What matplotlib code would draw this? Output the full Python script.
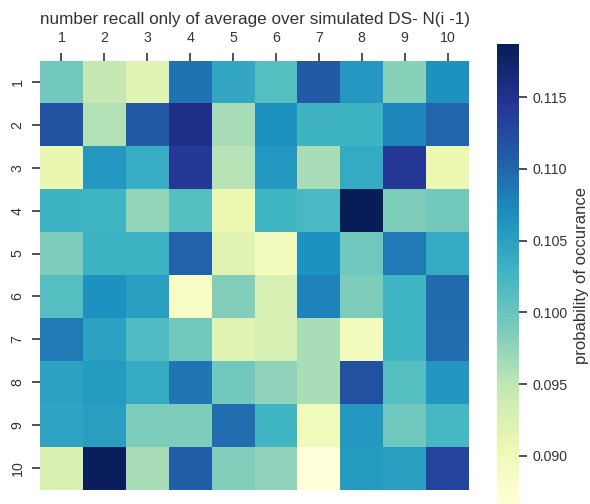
import numpy as np
import matplotlib
matplotlib.use("Agg")
import matplotlib.pyplot as plt
import seaborn as sns

row_labels = ["1", "2", "3", "4", "5", "6", "7", "8", "9", "10"]
col_labels = ["1", "2", "3", "4", "5", "6", "7", "8", "9", "10"]

row1 = [0.0994, 0.0946, 0.0920, 0.1090, 0.1042, 0.1013, 0.1110, 0.1058, 0.0981, 0.1065]
row2 = [0.1116, 0.0958, 0.1110, 0.1155, 0.0962, 0.1066, 0.1029, 0.1029, 0.1074, 0.1100]
row3 = [0.0910, 0.1058, 0.1036, 0.1142, 0.0955, 0.1058, 0.0962, 0.1039, 0.1142, 0.0904]
row4 = [0.1029, 0.1026, 0.0975, 0.1013, 0.0904, 0.1026, 0.1020, 0.1187, 0.0987, 0.0994]
row5 = [0.0987, 0.1029, 0.1029, 0.1103, 0.0920, 0.0894, 0.1065, 0.0997, 0.1084, 0.1039]
row6 = [0.1013, 0.1066, 0.1052, 0.0884, 0.0984, 0.0929, 0.1078, 0.0987, 0.1026, 0.1097]
row7 = [0.1084, 0.1049, 0.1016, 0.0994, 0.0920, 0.0929, 0.0962, 0.0894, 0.1026, 0.1094]
row8 = [0.1049, 0.1055, 0.1039, 0.1087, 0.0994, 0.0978, 0.0962, 0.1119, 0.1013, 0.1061]
row9 = [0.1045, 0.1052, 0.0987, 0.0987, 0.1094, 0.1026, 0.0897, 0.1058, 0.0997, 0.1023]
row10 = [0.0926, 0.1184, 0.0962, 0.1107, 0.0984, 0.0978, 0.0865, 0.1055, 0.1052, 0.1132]

data = np.array([row1, row2, row3, row4, row5, row6, row7, row8, row9, row10])

cbar_ticks = [0.090, 0.095, 0.100, 0.105, 0.110, 0.115]
cbar_ticklabels = ["0.090", "0.095", "0.100", "0.105", "0.110", "0.115"]

sns.set_style("ticks")
plt.rcParams['font.family'] = ['Liberation Sans', 'DejaVu Sans']
txt = "#333333"

fig = plt.figure(figsize=(5.9, 5.04), dpi=100)
ax = fig.add_axes([40/590, -2/504, 429/590, 462/504])
cax = fig.add_axes([497/590, -2/504, 22/590, 462/504])

sns.heatmap(data, ax=ax, cbar_ax=cax, cmap="YlGnBu", square=True,
            xticklabels=col_labels, yticklabels=row_labels)

ax.xaxis.tick_top()
ax.xaxis.set_label_position("top")
ax.tick_params(axis="x", labelsize=10.2, colors=txt, length=6, width=1.2, pad=5, rotation=0)
ax.tick_params(axis="y", labelsize=10.2, colors=txt, length=6, width=1.2, pad=5)
for t in ax.get_yticklabels():
    t.set_rotation(90)
    t.set_va("center")
ax.set_title("number recall only of average over simulated DS- N(i -1)",
             fontsize=12.3, color=txt, pad=5)

cax.set_yticks(cbar_ticks)
cax.set_yticklabels(cbar_ticklabels)
cax.tick_params(labelsize=10.2, colors=txt, length=6, width=1.2, pad=4)
cax.set_ylabel("probability of occurance", fontsize=12, color=txt, labelpad=4)

fig.savefig("out.png", dpi=100)
